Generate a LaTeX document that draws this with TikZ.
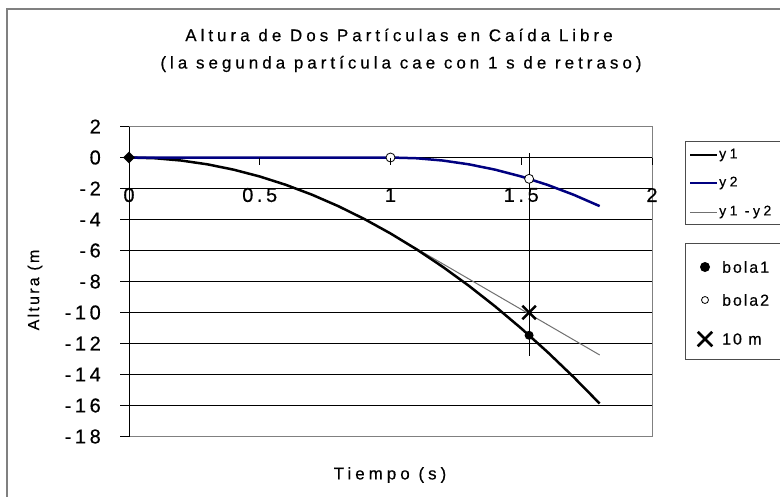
\documentclass[tikz,border=0pt]{standalone}
\usepackage{fontspec}
\setmainfont{Liberation Sans}
\newfontfamily\ttlfont[LetterSpace=23.5,FakeBold=0.4]{Liberation Sans}
\newfontfamily\tickfont[LetterSpace=18,FakeBold=0.4]{Liberation Sans}
\newfontfamily\axfont[LetterSpace=14,FakeBold=0.4]{Liberation Sans}
\newfontfamily\legAfont[LetterSpace=25,FakeBold=0.3]{Liberation Sans}
\newfontfamily\legBfont[LetterSpace=12,FakeBold=0.4]{Liberation Sans}
\usetikzlibrary{shapes.geometric,shapes.misc}
\definecolor{navyblue}{HTML}{000080}
\definecolor{framegray}{HTML}{808080}
\definecolor{diffgray}{HTML}{707070}
\begin{document}
\begin{tikzpicture}[x=1pt,y=-1pt,
  gridline/.style={black,line width=1pt},
  axisline/.style={black,line width=1pt},
  plotframe/.style={framegray,line width=1pt},
  legbox/.style={black!70,line width=1pt},
  y1s/.style={black,line width=2.5pt,line join=round},
  y2s/.style={navyblue,line width=2.5pt,line join=round},
  dfs/.style={diffgray,line width=1pt,line join=round},
  ttl/.style={inner sep=0pt,font=\ttlfont\fontsize{17}{20}\selectfont},
  axt/.style={inner sep=0pt,font=\ttlfont\fontsize{17}{20}\selectfont},
  axty/.style={inner sep=0pt,font=\axfont\fontsize{16}{19}\selectfont},
  ticklab/.style={inner sep=0pt,font=\tickfont\fontsize{20}{24}\selectfont},
  legA/.style={inner sep=0pt,anchor=west,font=\legAfont\fontsize{14}{17}\selectfont},
  legB/.style={inner sep=0pt,anchor=west,font=\legBfont\fontsize{16}{19}\selectfont},
  diamk/.style={diamond,fill=black,inner sep=0pt,minimum size=12pt},
  openmk/.style={circle,draw=black,fill=white,line width=0.8pt,inner sep=0pt,minimum size=9pt},
  fillmk/.style={circle,fill=black,inner sep=0pt,minimum size=9pt},
  xmk/.style={cross out,draw=black,line width=2.5pt,inner sep=0pt,minimum size=11pt}
]
\useasboundingbox (0,0) rectangle (780,496);
\fill[white] (0,0) rectangle (780,496);
\begin{scope}
  \clip (0,0) rectangle (780,496);
  \draw[framegray,line width=2pt] (7,520) -- (7,9) -- (800,9);
  \draw[legbox] (800,141) -- (685,141) -- (685,224) -- (800,224);
  \draw[legbox] (800,243) -- (685,243) -- (685,359) -- (800,359);
\end{scope}

% titles
\node[ttl] (title1) at (399,35) {Altura de Dos Partículas en Caída Libre};
\node[ttl] (title2) at (401,64) {(la segunda partícula cae con 1 s de retraso)};
\node[axt] (xtitle) at (390,475) {Tiempo (s)};
\node[axty,rotate=90] (ytitle) at (35,290) {Altura (m};

% plot
\begin{scope}[shift={(129,157.5)},x=261.5pt,y=15.5pt]
  \foreach \v in {0,-2,-4,-6,-8,-10,-12,-14,-16}
    \draw[gridline] (0,\v) -- (2,\v);
  \draw[plotframe] (0,2) -- (2,2) -- (2,-18) -- (0,-18);
  \draw[axisline] (0,2) -- (0,-18);
  \foreach \v [count=\i] in {2,0,-2,-4,-6,-8,-10,-12,-14,-16,-18} {
    \draw[axisline] (0,\v) -- ++(-9pt,0);
    \node[ticklab,anchor=east,xshift=-28pt] (ylab\i) at (0,\v) {\v};
  }
  \foreach \t/\s [count=\i] in {0/0,0.5/0.5,1/1,1.5/1.5,2/2}
    \node[ticklab,yshift=-37.5pt] (xlab\i) at (\t,0) {\s};
  % series
  \draw[dfs] plot[domain=0:1,samples=11] (\x,{-4.9*\x*\x}) -- (1.8,-12.74);
  \draw[y1s] plot[domain=0:1.8,samples=19] (\x,{-4.9*\x*\x});
  \draw[y2s] (0,0) -- (1,0) -- plot[domain=1:1.8,samples=9] (\x,{-4.9*(\x-1)*(\x-1)});
  \draw[axisline] (1.53,0.29) -- (1.53,-12.8);
  % markers
  \node[diamk] (b1a) at (0,0) {};
  \node[openmk] (b2a) at (1,0) {};
  \foreach \t in {0.5,1,1.5,2}
    \draw[axisline] (\t,0) -- ++(0,-7pt);
  \node[openmk] (b2b) at (1.53,-1.376) {};
  \node[fillmk] (b1b) at (1.53,-11.47) {};
  \node[xmk] (tenm) at (1.53,-10) {};
\end{scope}

% legend 1
\coordinate (la1) at (690,155); \coordinate (lb1) at (717,155);
\coordinate (la2) at (690,183); \coordinate (lb2) at (717,183);
\coordinate (la3) at (690,212); \coordinate (lb3) at (717,212);
\draw[black,line width=2pt] (la1) -- (lb1);
\draw[navyblue,line width=2pt] (la2) -- (lb2);
\draw[dfs] (la3) -- (lb3);
\node[legA] (ly1) at (719,155) {y1};
\node[legA] (ly2) at (719,183) {y2};
\node[legA] (ly3) at (719,212) {y1 -y2};

% legend 2
\node[fillmk,minimum size=10pt] (lm1) at (705,267) {};
\node[openmk,minimum size=7pt] (lm2) at (705,300) {};
\node[xmk,minimum size=12pt] (lm3) at (705,339) {};
\node[legB] (lt1) at (722,267) {bola1};
\node[legB] (lt2) at (722,300) {bola2};
\node[legB] (lt3) at (722,339) {10 m};
\end{tikzpicture}
\end{document}
